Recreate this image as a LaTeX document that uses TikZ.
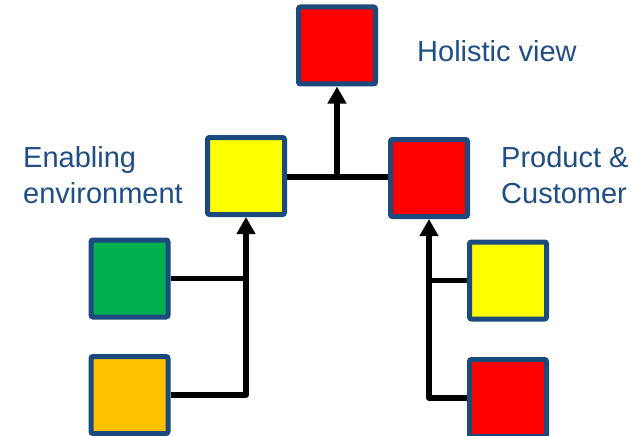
\documentclass[tikz,border=0pt]{standalone}
\usepackage{fontspec}
\setmainfont{Liberation Sans}
\usetikzlibrary{arrows.meta}
\definecolor{frameblue}{HTML}{1A4A7E}
\definecolor{labelblue}{HTML}{1F4E86}
\definecolor{boxred}{HTML}{FF0000}
\definecolor{boxyellow}{HTML}{FFFF00}
\definecolor{boxgreen}{HTML}{00B050}
\definecolor{boxorange}{HTML}{FFC000}
\begin{document}
\begin{tikzpicture}[x=1pt,y=-1pt,
  block/.style={draw=frameblue, line width=5pt, rounded corners=2pt,
    minimum width=77pt, minimum height=77pt, inner sep=0pt},
  link/.style={line width=5.5pt, line join=round},
  uplink/.style={link, -{Triangle[width=18pt,length=17pt]}},
  caption/.style={text=labelblue, anchor=base west, inner sep=0pt,
    font=\fontsize{29}{36}\selectfont, align=left}]
  \useasboundingbox (0,0) rectangle (632,436);
  % boxes
  \node[block, fill=boxred]    (holistic) at (337,45.5) {};
  \node[block, fill=boxyellow] (enabling) at (246,176) {};
  \node[block, fill=boxred]    (product)  at (429,178) {};
  \node[block, fill=boxgreen]  (green)    at (129.5,278.5) {};
  \node[block, fill=boxorange] (orange)   at (129.5,395) {};
  \node[block, fill=boxyellow] (pyellow)  at (508,280.5) {};
  \node[block, fill=boxred]    (pred)     at (508,398) {};
  % labels (the base anchor sits on the last line)
  \node[caption] (tholistic) at (417,62) {Holistic view};
  \node[caption] (tenabling) at (23,203) {Enabling\\environment};
  \node[caption] (tproduct)  at (501,203) {Product \&\\Customer};
  % connectors
  \coordinate (ljoin) at (enabling.east |- 0,177);
  \coordinate (rjoin) at (product.west |- 0,177);
  \coordinate (mid) at (337,177);
  \draw[link] (ljoin) -- (rjoin);
  \draw[uplink, line width=6.5pt] (mid) -- (holistic.south);
  \draw[uplink] (orange.east) -| (enabling.south);
  \draw[link] (green.east) -- (green.east -| enabling.south);
  \draw[uplink] (pred.west) -| (product.south);
  \draw[link] (pyellow.west) -- (pyellow.west -| product.south);
\end{tikzpicture}
\end{document}
